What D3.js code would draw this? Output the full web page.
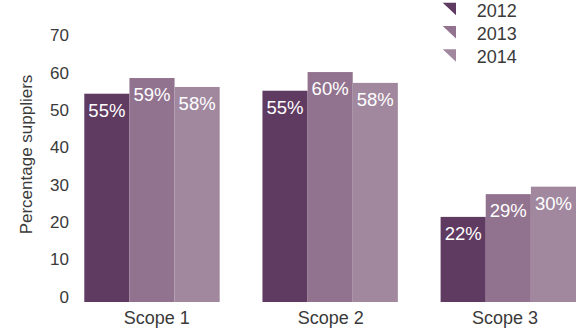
<!DOCTYPE html>
<html>
<head>
<meta charset="utf-8">
<script src="https://cdn.jsdelivr.net/npm/d3@7"></script>
<style>
  html, body { margin: 0; padding: 0; background: #fff; }
  svg { display: block; font-family: "Liberation Sans", Arial, Helvetica, sans-serif; }
</style>
</head>
<body>
<svg id="chart" width="579" height="329"></svg>
<script>
const categories = ["Scope 1", "Scope 2", "Scope 3"];
const years = ["2012", "2013", "2014"];
// bar heights
const values2012 = [55.8, 56.6, 22.8];
const values2013 = [60.0, 61.6, 28.9];
const values2014 = [57.6, 58.7, 30.9];
// labels printed on the bars
const labels2012 = ["55%", "55%", "22%"];
const labels2013 = ["59%", "60%", "29%"];
const labels2014 = ["58%", "58%", "30%"];
const yTicks = [0, 10, 20, 30, 40, 50, 60, 70];
const yTitle = "Percentage suppliers";
const colors = ["#5f3a61", "#92738f", "#a1889f"];

const series = [
  { year: years[0], values: values2012, labels: labels2012 },
  { year: years[1], values: values2013, labels: labels2013 },
  { year: years[2], values: values2014, labels: labels2014 }
];

const svg = d3.select("#chart");

const y = d3.scaleLinear().domain([0, 70]).range([302, 40.7]);
const x = d3.scaleBand().domain(categories).range([84.3, 576]).paddingInner(0.24).paddingOuter(0);
const xSub = d3.scaleBand().domain(years).range([0, x.bandwidth()]).padding(0);
const color = d3.scaleOrdinal().domain(years).range(colors);
const xLabel = d3.scalePoint().domain(categories).range([156.7, 505]);

// Y axis
const yAxis = d3.axisLeft(y).tickValues(yTicks).tickSize(0).tickPadding(0).tickFormat(d3.format("d"));
const gy = svg.append("g").attr("transform", "translate(69,0)").call(yAxis);
gy.select(".domain").remove();
gy.selectAll("text")
  .attr("dy", "0")
  .attr("fill", "#3a3a3a")
  .style("font-size", "17px")
  .style("font-family", "\"Liberation Sans\", Arial, sans-serif");

// Y title
svg.append("text")
  .attr("transform", "translate(32.3,154.5) rotate(-90)")
  .attr("text-anchor", "middle")
  .attr("fill", "#3a3a3a")
  .style("font-size", "17px")
  .text(yTitle);

// Bars
const groups = svg.selectAll("g.grp")
  .data(categories)
  .join("g")
  .attr("class", "grp")
  .attr("transform", d => `translate(${x(d)},0)`);

series.forEach(s => {
  groups.append("rect")
    .attr("x", xSub(s.year))
    .attr("width", xSub.bandwidth())
    .attr("y", (d, i) => y(s.values[i]))
    .attr("height", (d, i) => y(0) - y(s.values[i]))
    .attr("fill", color(s.year));
  groups.append("text")
    .attr("x", xSub(s.year) + xSub.bandwidth() / 2)
    .attr("y", (d, i) => y(s.values[i]) + 23)
    .attr("text-anchor", "middle")
    .attr("fill", "#fff")
    .style("font-size", "18.5px")
    .text((d, i) => s.labels[i]);
});

// Category labels
svg.selectAll("text.cat")
  .data(categories)
  .join("text")
  .attr("class", "cat")
  .attr("x", d => xLabel(d))
  .attr("y", 324)
  .attr("text-anchor", "middle")
  .attr("fill", "#3a3a3a")
  .style("font-size", "18px")
  .text(d => d);

// Legend
const legY = d3.scalePoint().domain(years).range([16.7, 63.3]);
const leg = svg.selectAll("g.leg")
  .data(years)
  .join("g")
  .attr("class", "leg")
  .attr("transform", d => `translate(0,${legY(d)})`);
leg.append("path")
  .attr("d", "M442.7,-14 L456,-14 L456,-1.5 Z")
  .attr("fill", d => color(d));
leg.append("text")
  .attr("x", 476.7)
  .attr("y", 0)
  .attr("fill", "#3a3a3a")
  .style("font-size", "18px")
  .text(d => d);
</script>
</body>
</html>
